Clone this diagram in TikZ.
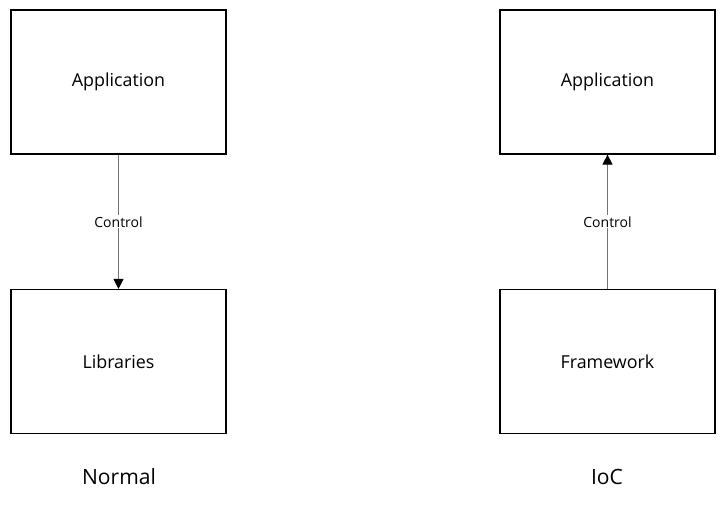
\documentclass[tikz,border=0pt]{standalone}
\usepackage{fontspec}
\setmainfont{Open Sans}
\usetikzlibrary{arrows.meta}
\begin{document}
\begin{tikzpicture}[x=0.75pt,y=-0.75pt,
  box/.style={draw=black,line width=0.9pt,minimum width=161.25pt,minimum height=108pt,inner sep=0pt,font=\fontsize{13.4}{16}\selectfont},
  conn/.style={draw=black!55,line width=0.75pt,-{Triangle[length=7.5pt,width=7.5pt,fill=black,color=black]}},
  lbl/.style={fill=white,inner sep=1pt,font=\fontsize{10.5}{12}\selectfont},
  captext/.style={font=\fontsize{15.8}{19}\selectfont}]
\useasboundingbox (0,0) rectangle (726,512);
\node[box] (app1) at (118.5,82) {Application};
\node[box] (lib) at (118.5,361.5) {Libraries};
\node[box] (app2) at (607.5,82) {Application};
\node[box] (fw) at (607.5,361.5) {Framework};
\draw[conn] (app1.south) -- node[lbl,pos=0.5] (c1) {Control} (lib.north);
\draw[conn] (fw.north) -- node[lbl,pos=0.5] (c2) {Control} (app2.south);
\node[captext] (n1) at (119,477) {Normal};
\node[captext] (n2) at (607,477) {IoC};
\end{tikzpicture}
\end{document}
